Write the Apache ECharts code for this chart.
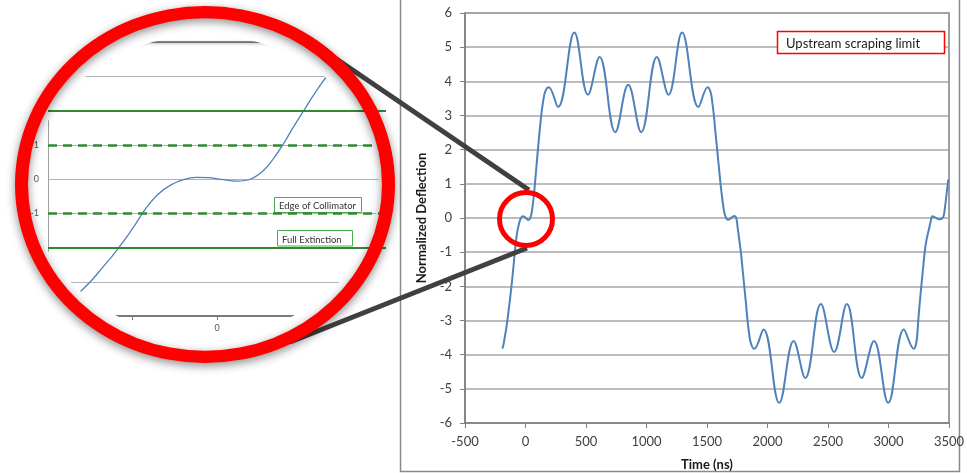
<!DOCTYPE html>
<html>
<head>
<meta charset="utf-8">
<script src="https://cdn.jsdelivr.net/npm/echarts@6/dist/echarts.min.js"></script>
<style>
html,body{margin:0;padding:0;background:#fff;}
#chart{width:967px;height:473px;}
</style>
</head>
<body>
<div id="chart"></div>
<script>
// ---- data ----
const times = [
  -192,-184,-172,-160,-148,-136,-124,-110,-96,-84,-70,-55,-40,-25,-10,5,24,40,55,67,78,90,104,117,130,145,165,192,
  269,404,516,612,742,849,956,1086,1182,1294,1429,1506,
  1530,1545,1557,1570,1584,1598,1612,1625,1640,1655,1672,1690,1708,1728,1742,1754,1767,1780,1794,1808,1822,1835,1848,1864,1890,
  1967,2097,2216,2312,2441,2551,2656,2779,2880,2998,3127,3210,
  3228,3238,3246,3258,3271,3285,3299,3312,3326,3336,3350,3363,3385,3418,3440,3455,3470,3483,3495
];
const deflection = [
  -3.82,-3.74,-3.5,-3.25,-2.95,-2.6,-2.25,-1.8,-1.3,-0.85,-0.45,-0.18,-0.02,0.05,0.04,-0.01,-0.06,0.0,0.25,0.6,1.0,1.5,2.05,2.55,3.0,3.4,3.72,3.83,
  3.25,5.43,3.61,4.71,2.51,3.9,2.51,4.71,3.61,5.43,3.25,3.83,
  3.68,3.35,3.0,2.5,2.0,1.5,1.0,0.6,0.22,0.02,-0.05,-0.03,0.03,0.06,0.0,-0.3,-0.65,-1.0,-1.5,-2.0,-2.5,-3.0,-3.38,-3.68,-3.83,
  -3.26,-5.41,-3.6,-4.68,-2.52,-3.92,-2.52,-4.68,-3.6,-5.41,-3.26,-3.83,
  -3.68,-3.4,-3.0,-2.5,-2.0,-1.5,-1.0,-0.68,-0.45,-0.3,-0.08,0.05,0.02,-0.04,-0.02,0.05,0.4,0.8,1.13
];
const xRange = [-500, 3500];       // main time axis (ns), ticks every 500
const yRange = [-6, 6];            // main deflection axis, ticks every 1
const scrapingLimits = [5.5, -5.5];
const insetXRange = [-200, 200];   // zoomed inset time axis
const insetYRange = [-4, 4];
const collimatorEdge = [1, -1];
const fullExtinction = [2, -2];

const points = times.map((t, i) => [t, deflection[i]]);
const FONT = 'Lato, "Open Sans", sans-serif';
const GREEN = '#2e8b2e';
const BLUE = '#4f81bd';

const chart = echarts.init(document.getElementById('chart'), null, {renderer: 'canvas'});

const option = {
  animation: false,
  backgroundColor: '#ffffff',
  textStyle: {fontFamily: FONT},
  grid: [
    {left: 465, top: 13, width: 484, height: 410, show: true, borderColor: '#7f7f7f', borderWidth: 1.5,
     backgroundColor: '#ffffff', containLabel: false, outerBoundsMode: 'none', z: 10},
    {left: 48, top: 42, width: 338, height: 274, show: false, containLabel: false, outerBoundsMode: 'none', z: 1}
  ],
  xAxis: [
    {gridIndex: 0, type: 'value', min: xRange[0], max: xRange[1], interval: 500, z: 10,
     axisLine: {show: true, onZero: false, lineStyle: {color: '#7f7f7f', width: 1.5}},
     axisTick: {show: true, length: 5, lineStyle: {color: '#7f7f7f', width: 1}},
     axisLabel: {fontSize: 13, color: '#404040', margin: 12, fontFamily: FONT, formatter: v => String(v)},
     splitLine: {show: false},
     name: 'Time (ns)', nameLocation: 'middle', nameGap: 35,
     nameTextStyle: {fontWeight: 'bold', fontSize: 13, color: '#1a1a1a', fontFamily: FONT}},
    {gridIndex: 1, type: 'value', min: insetXRange[0], max: insetXRange[1], interval: 100, position: 'bottom', z: 1,
     axisLine: {show: true, onZero: false, lineStyle: {color: '#7a7a7a', width: 2}},
     axisTick: {show: true, length: 4, lineStyle: {color: '#7a7a7a'}},
     axisLabel: {fontSize: 9, color: '#595959', margin: 8, fontFamily: FONT,
       formatter: v => (v === 0 ? '0' : '')},
     splitLine: {show: false}},
    {gridIndex: 1, type: 'value', min: insetXRange[0], max: insetXRange[1], interval: 100, position: 'top', z: 1,
     axisLine: {show: true, onZero: false, lineStyle: {color: '#666666', width: 1.5, shadowBlur: 3, shadowColor: 'rgba(0,0,0,0.35)', shadowOffsetY: 1}},
     axisTick: {show: false}, axisLabel: {show: false}, splitLine: {show: false}}
  ],
  yAxis: [
    {gridIndex: 0, type: 'value', min: yRange[0], max: yRange[1], interval: 1, z: 10,
     axisLine: {show: true, onZero: false, lineStyle: {color: '#7f7f7f', width: 1.5}},
     axisTick: {show: true, length: 5, lineStyle: {color: '#7f7f7f'}},
     axisLabel: {fontSize: 13, color: '#404040', margin: 13, fontFamily: FONT},
     splitLine: {show: true, lineStyle: {color: '#a6a6a6', width: 1.5}},
     name: 'Normalized Deflection', nameLocation: 'middle', nameGap: 37, nameRotate: 90,
     nameTextStyle: {fontWeight: 'bold', fontSize: 13, color: '#1a1a1a', fontFamily: FONT}},
    {gridIndex: 1, type: 'value', min: insetYRange[0], max: insetYRange[1], interval: 1, z: 1, position: 'left',
     axisLine: {show: true, onZero: false, lineStyle: {color: '#a0a0a0', width: 1}},
     axisTick: {show: false}, axisLabel: {show: false},
     splitLine: {show: true, lineStyle: {color: '#b3b3b3', width: 1}}},
    {gridIndex: 1, type: 'value', min: insetYRange[0], max: insetYRange[1], interval: 1, z: 6, position: 'left',
     axisLine: {show: false, onZero: false}, axisTick: {show: false}, splitLine: {show: false},
     axisLabel: {fontSize: 9, color: '#595959', margin: 9, fontFamily: FONT,
       formatter: v => (Math.abs(v) <= 1 ? String(v) : '')}}
  ],
  series: [
    {type: 'line', xAxisIndex: 0, yAxisIndex: 0, data: points, showSymbol: false, symbol: 'none',
     smooth: 0.4, z: 11,
     lineStyle: {color: BLUE, width: 2},
     markLine: {silent: true, symbol: ['none', 'none'], label: {show: false}, animation: false,
       lineStyle: {color: '#ff0000', width: 1.5, type: 'solid'},
       data: scrapingLimits.map(v => ({yAxis: v}))}},
    {type: 'line', xAxisIndex: 1, yAxisIndex: 1, data: points, showSymbol: false, symbol: 'none',
     smooth: 0.4, z: 2, clip: true,
     lineStyle: {color: BLUE, width: 1.3},
     markLine: {silent: true, symbol: ['none', 'none'], label: {show: false}, animation: false,
       data: fullExtinction.map(v => ({yAxis: v, lineStyle: {color: GREEN, width: 2, type: 'solid'}}))
         .concat(collimatorEdge.map(v => ({yAxis: v, lineStyle: {color: GREEN, width: 2.5, type: [9, 6]}})))}}
  ],
  graphic: {elements: [
    // inset annotation boxes
    {type: 'rect', z: 3, shape: {x: 274.5, y: 197.5, width: 87, height: 15},
     style: {fill: '#ffffff', stroke: '#4cae4c', lineWidth: 1}},
    {type: 'text', z: 3, x: 279, y: 206,
     style: {text: 'Edge of Collimator', font: '9.5px ' + FONT, fill: '#333333', align: 'left', verticalAlign: 'middle'}},
    {type: 'rect', z: 3, shape: {x: 277.5, y: 230.5, width: 75, height: 15.5},
     style: {fill: '#ffffff', stroke: '#4cae4c', lineWidth: 1}},
    {type: 'text', z: 3, x: 282, y: 239.5,
     style: {text: 'Full Extinction', font: '9.5px ' + FONT, fill: '#333333', align: 'left', verticalAlign: 'middle'}},
    // white mask outside the magnifier window
    {type: 'ring', z: 5, x: 205, y: 186, scaleY: 151 / 174, silent: true,
     shape: {cx: 0, cy: 0, r: 262, r0: 174}, style: {fill: '#ffffff'}},
    // main chart outer frame
    {type: 'rect', z: 10, shape: {x: 400.5, y: -10, width: 559, height: 481.5},
     style: {fill: 'none', stroke: '#8a8a8a', lineWidth: 1.5}},
    // upstream scraping limit label
    {type: 'rect', z: 12, shape: {x: 777.5, y: 31.5, width: 167, height: 22},
     style: {fill: '#ffffff', stroke: '#ff0000', lineWidth: 1.5}},
    {type: 'text', z: 12, x: 786, y: 43.5,
     style: {text: 'Upstream scraping limit', font: '13px ' + FONT, fill: '#1a1a1a', align: 'left', verticalAlign: 'middle'}},
    // connector lines
    {type: 'line', z: 20, shape: {x1: 335, y1: 58, x2: 529, y2: 190},
     style: {stroke: '#404040', lineWidth: 5}},
    {type: 'line', z: 20, shape: {x1: 290, y1: 342, x2: 527, y2: 248},
     style: {stroke: '#404040', lineWidth: 5}},
    // big magnifier ring
    {type: 'ring', z: 21, x: 205, y: 184.5, scaleY: 178.5 / 190,
     shape: {cx: 0, cy: 0, r: 190, r0: 177},
     style: {fill: '#ff0000', shadowBlur: 10, shadowColor: 'rgba(0,0,0,0.45)', shadowOffsetY: 3}},
    // small circle on main chart
    {type: 'circle', z: 21, shape: {cx: 526, cy: 219, r: 26.5},
     style: {fill: 'none', stroke: '#ff0000', lineWidth: 5}}
  ]}
};
chart.setOption(option);
</script>
</body>
</html>
